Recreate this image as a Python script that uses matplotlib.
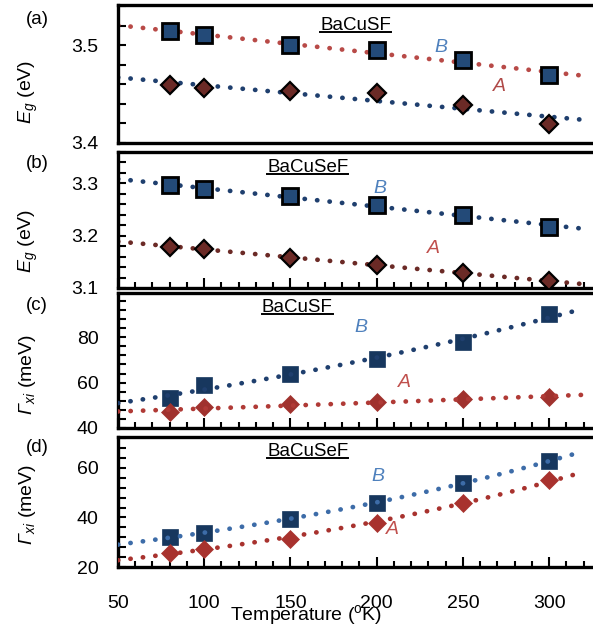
import numpy as np
import matplotlib
matplotlib.use("Agg")
import matplotlib.pyplot as plt
from matplotlib.ticker import MultipleLocator, FormatStrFormatter
from matplotlib.lines import Line2D

plt.rcParams['font.family'] = ['Liberation Sans', 'DejaVu Sans']
plt.rcParams['mathtext.fontset'] = 'custom'
plt.rcParams['mathtext.rm'] = 'Liberation Sans'
plt.rcParams['mathtext.it'] = 'Liberation Sans:italic'
plt.rcParams['mathtext.sf'] = 'Liberation Sans:italic'

# Data
temps = [80, 100, 150, 200, 250, 300]

eg_s_B = [3.514, 3.510, 3.500, 3.495, 3.485, 3.469]
eg_s_A = [3.459, 3.456, 3.453, 3.451, 3.439, 3.419]

eg_se_B = [3.296, 3.290, 3.275, 3.258, 3.240, 3.217]
eg_se_A = [3.179, 3.175, 3.158, 3.144, 3.129, 3.113]

gam_s_B = [53.2, 58.9, 63.7, 70.3, 77.8, 90.1]
gam_s_A = [47.0, 49.2, 50.5, 51.4, 52.7, 53.6]

gam_se_B = [32.1, 33.7, 39.4, 45.9, 54.0, 62.8]
gam_se_A = [25.7, 27.3, 31.3, 37.8, 45.9, 55.2]

fit_range = (50, 320)

W, H = 593, 633
fig = plt.figure(figsize=(W / 100, H / 100), dpi=100)

def px_axes(top, bottom):
    left = 118 / W
    width = 500 / W
    return [left, 1 - bottom / H, width, (bottom - top) / H]

gamma_label = r'$\mathsf{\Gamma}_{\mathit{xi}}$ (meV)'

panels = [
    dict(rect=px_axes(5, 143), B=eg_s_B, A=eg_s_A, ylim=(3.4, 3.541), major=0.1, minor=0.02, fmt='%.1f',
         fit='lin', title='BaCuSF', title_xy=(188, 3.520), Bxy=(237, 3.498), Axy=(271, 3.458),
         sq=dict(mfc='#234a78', mec='black', mew=2.0, ms=11.5), di=dict(mfc='#6b2a26', mec='black', mew=1.6, ms=9.5),
         lineB='#b84a47', lineA='#1f3f6e', Acol='#b04a48', letter='(a)', letter_y=19,
         ylabel=r'$E_g$ (eV)', ylabel_y=92, lines_on_top=False, xticks=False),
    dict(rect=px_axes(152, 288), B=eg_se_B, A=eg_se_A, ylim=(3.1, 3.36), major=0.1, minor=0.02, fmt='%.1f',
         fit='lin', title='BaCuSeF', title_xy=(160, 3.33), Bxy=(202, 3.29), Axy=(233, 3.175),
         sq=dict(mfc='#234a78', mec='black', mew=2.0, ms=11.5), di=dict(mfc='#6b2a26', mec='black', mew=1.6, ms=9.5),
         lineB='#1f3f6e', lineA='#6b2a26', Acol='#c0504d', letter='(b)', letter_y=163,
         ylabel=r'$E_g$ (eV)', ylabel_y=241, lines_on_top=False, xticks=True),
    dict(rect=px_axes(293, 428), B=gam_s_B, A=gam_s_A, ylim=(40, 99.5), major=20, minor=4, fmt='%d',
         fit='exp', title='BaCuSF', title_xy=(154, 93), Bxy=(191, 84.4), Axy=(216, 60.2),
         sq=dict(mfc='#17375e', mec='#17375e', mew=0.5, ms=11), di=dict(mfc='#a0322e', mec='#a0322e', mew=0.5, ms=9),
         lineB='#1f3f6e', lineA='#b03a36', Acol='#c0504d', letter='(c)', letter_y=305,
         ylabel=gamma_label, ylabel_y=375, lines_on_top=True, xticks=True),
    dict(rect=px_axes(437, 567), B=gam_se_B, A=gam_se_A, ylim=(20, 72.5), major=20, minor=4, fmt='%d',
         fit='exp', title='BaCuSeF', title_xy=(160, 66.5), Bxy=(201, 56.4), Axy=(209, 35),
         sq=dict(mfc='#17375e', mec='#17375e', mew=0.5, ms=11), di=dict(mfc='#a8322e', mec='#a8322e', mew=0.5, ms=9),
         lineB='#3d6ca8', lineA='#a8322e', Acol='#c0504d', letter='(d)', letter_y=447,
         ylabel=gamma_label, ylabel_y=505, lines_on_top=True, xticks=True),
]

xfit = np.linspace(fit_range[0], fit_range[1], 200)
t = np.array(temps, dtype=float)

def trend(y, kind):
    y = np.array(y, dtype=float)
    if kind == 'lin':
        p = np.polyfit(t, y, 1)
        return np.polyval(p, xfit)
    p = np.polyfit(t, np.log(y), 1)
    return np.exp(np.polyval(p, xfit))

axes = []
for i, p in enumerate(panels):
    ax = fig.add_axes(p['rect'])
    axes.append(ax)
    zl = 4 if p['lines_on_top'] else 2
    dot = dict(linestyle=(0, (0.05, 2.6)), dash_capstyle='round', linewidth=3.4, zorder=zl)
    ax.plot(xfit, trend(p['B'], p['fit']), color=p['lineB'], **dot)
    ax.plot(xfit, trend(p['A'], p['fit']), color=p['lineA'], **dot)
    ax.plot(temps, p['B'], linestyle='none', marker='s', zorder=3, **p['sq'])
    ax.plot(temps, p['A'], linestyle='none', marker='D', zorder=3, **p['di'])

    ax.set_xlim(50, 340)
    ax.set_ylim(*p['ylim'])
    ax.yaxis.set_major_locator(MultipleLocator(p['major']))
    ax.yaxis.set_minor_locator(MultipleLocator(p['minor']))
    ax.yaxis.set_major_formatter(FormatStrFormatter(p['fmt']))
    ax.xaxis.set_major_locator(MultipleLocator(50))
    ax.xaxis.set_minor_locator(MultipleLocator(10))
    for s in ax.spines.values():
        s.set_linewidth(2.4)
    ax.tick_params(axis='y', which='both', direction='in', left=True, right=False, width=1.5, labelsize=14, pad=14)
    ax.tick_params(axis='y', which='major', length=6)
    ax.tick_params(axis='y', which='minor', length=6)
    ax.tick_params(axis='x', which='both', direction='in', top=False, bottom=p['xticks'], width=1.5,
                   labelbottom=(i == 3), labelsize=14, pad=20)
    ax.tick_params(axis='x', which='major', length=7)
    ax.tick_params(axis='x', which='minor', length=4)

    ax.text(*p['Bxy'], 'B', color='#4f81bd', style='italic', fontsize=14, ha='center', va='center')
    ax.text(*p['Axy'], 'A', color=p['Acol'], style='italic', fontsize=14, ha='center', va='center')
    p['title_artist'] = ax.text(*p['title_xy'], p['title'], fontsize=13.5, ha='center', va='center')

    fig.text(37 / W, 1 - p['letter_y'] / H, p['letter'], fontsize=13.5, ha='center', va='center')
    fig.text(28 / W, 1 - p['ylabel_y'] / H, p['ylabel'], fontsize=14, rotation=90, ha='center', va='center')

fig.text(306 / W, 1 - 615 / H, 'Temperature ($^{\\rm o}$K)', fontsize=14, ha='center', va='center')

# underline the compound names
fig.canvas.draw()
renderer = fig.canvas.get_renderer()
inv = fig.transFigure.inverted()
for ax, p in zip(axes, panels):
    bb = p['title_artist'].get_window_extent(renderer)
    (x0, y0), (x1, _) = inv.transform([(bb.x0, bb.y0 + 2), (bb.x1, bb.y0 + 2)])
    fig.add_artist(Line2D([x0, x1], [y0, y0], color='black', linewidth=1.4, transform=fig.transFigure))

fig.savefig('out.png', dpi=100)
